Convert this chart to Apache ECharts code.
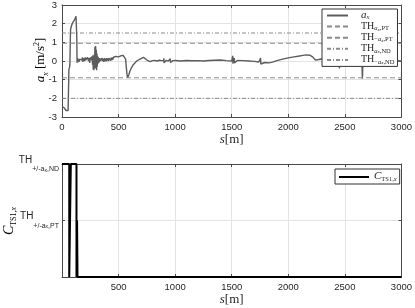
<!DOCTYPE html>
<html><head><meta charset="utf-8">
<script src="https://cdn.jsdelivr.net/npm/echarts@6/dist/echarts.min.js"></script>
<style>html,body{margin:0;padding:0;background:#fff}#c{width:415px;height:308px}</style>
</head><body><div id="c"></div>
<script>
// ---- data ----
const sAx = [0,6,12,18,24,30,36,42,48,54,58,60,61,64,68,70,72,74,76,78,82,86,90,95,100,105,110,115,118,121,124,127,129,131,133,136,140,145,150,155,160,165,170,175,180,185,190,195,200,205,210,215,220,225,230,235,240,245,250,255,260,265,270,273,276,279,282,285,288,291,294,297,300,303,306,309,312,315,318,321,324,327,330,335,340,345,350,355,360,365,370,375,380,385,390,395,400,405,410,415,420,425,430,435,440,445,450,455,460,465,470,475,480,490,500,510,520,530,540,550,556,562,568,574,580,590,600,615,630,645,660,675,690,705,720,735,750,765,780,800,820,840,860,880,898,900,902,920,940,955,957,959,980,1000,1050,1100,1150,1200,1250,1300,1350,1400,1450,1500,1509,1511,1513,1523,1525,1550,1600,1650,1700,1740,1755,1757,1760,1790,1830,1860,1900,1950,2000,2050,2100,2130,2160,2190,2215,2240,2255,2270,2300,2350,2400,2450,2452,2455,2500,2550,2600,2650,2655,2660,2700,2800,2900,2950,3000];
const ax = [-2.45,-2.5,-2.55,-2.5,-2.6,-2.55,-2.65,-2.6,-2.7,-2.65,-2.7,-2.6,-0.45,-0.35,-0.3,-0.15,0.6,1.3,1.7,1.8,1.85,1.95,2.0,2.05,2.1,2.0,2.2,2.15,2.3,2.25,2.4,2.45,2.3,1.2,-0.1,0.15,0.05,0.15,-0.05,0.1,0.2,0.0,0.15,0.05,0.2,-0.05,0.15,0.1,0.0,0.2,0.05,0.15,-0.05,0.2,0.1,0.0,0.15,-0.1,0.2,0.05,-0.05,0.25,-0.2,0.3,-0.45,0.2,-0.5,0.35,-0.3,0.75,-0.4,0.8,-0.2,0.6,-0.5,0.4,-0.3,0.25,-0.15,0.2,-0.1,0.15,-0.05,0.15,0.0,0.1,-0.05,0.15,0.0,0.12,-0.05,0.15,0.0,0.12,-0.02,0.15,0.02,0.14,0.0,0.15,0.05,0.16,0.02,0.18,0.05,0.2,0.08,0.2,0.1,0.22,0.12,0.25,0.15,0.25,0.22,0.3,0.28,0.33,0.3,0.38,0.32,0.1,-0.3,-0.7,-0.9,-0.75,-0.55,-0.35,-0.2,-0.1,0.0,0.05,0.1,0.15,0.2,0.15,0.05,0.0,-0.03,0.02,0.03,0.0,0.04,0.02,0.03,0.14,-0.1,0.03,0.0,0.02,0.12,-0.08,0.02,0.03,0.0,0.03,0.01,0.02,0.0,0.03,0.04,0.05,0.02,0.0,0.28,-0.15,0.03,0.16,-0.1,0.03,0.02,0.0,-0.02,-0.05,0.16,-0.16,-0.06,-0.08,-0.1,-0.06,0.02,0.1,0.17,0.22,0.27,0.3,0.33,0.31,0.22,0.05,0.0,0.08,0.12,0.1,0.08,0.05,-0.4,0.05,0.06,0.04,0.03,0.02,-0.95,0.02,0.0,0.02,0.0,0.02,0.0];
const thPosPT = 0.95, thNegPT = -0.9, thPosND = 1.5, thNegND = -2.0;
const sRange = [0, 3000];
const sC = [0,64,64,78,78,128,128,133,133,137,137,3000];
const cVal = [2,2,0,0,2,2,0,0,1,1,0,0];
const cTickLabels = {1: 'PT', 2: 'ND'};

const zip = (a, b) => a.map((v, i) => [v, b[i]]);
const thLine = v => sRange.map(s => [s, v]);

const frame = '#4a4a4a', grid = '#e3e3e3', txt = '#262626';
const tickFont = {fontSize: 9.5, color: txt, fontFamily: 'Liberation Sans'};
const serif = 'Liberation Serif';

function xMain(gi, hideZero) {
  return {gridIndex: gi, type: 'value', min: 0, max: 3000, interval: 500, position: 'bottom',
    axisLine: {show: true, onZero: false, lineStyle: {color: frame, width: 1}},
    axisTick: {show: true, inside: true, length: 3, lineStyle: {color: frame}},
    axisLabel: Object.assign({margin: 5, formatter: v => (hideZero && v === 0) ? '' : String(v)}, tickFont),
    splitLine: {show: true, lineStyle: {color: grid, width: 1}},
    name: '{i|s}{n|[m]}', nameLocation: 'middle', nameGap: 16,
    nameTextStyle: {rich: {i: {fontFamily: serif, fontStyle: 'italic', fontSize: 13, color: txt},
                           n: {fontFamily: serif, fontSize: 13, color: txt}}}};
}
function xTop(gi) {
  return {gridIndex: gi, type: 'value', min: 0, max: 3000, interval: 500, position: 'top',
    axisLine: {show: true, onZero: false, lineStyle: {color: frame, width: 1}},
    axisTick: {show: true, inside: true, length: 3, lineStyle: {color: frame}},
    axisLabel: {show: false}, splitLine: {show: false}};
}
function yRight(gi, min, max) {
  return {gridIndex: gi, type: 'value', min: min, max: max, interval: 1, position: 'right',
    axisLine: {show: true, onZero: false, lineStyle: {color: frame, width: 1}},
    axisTick: {show: true, inside: true, length: 3, lineStyle: {color: frame}},
    axisLabel: {show: false}, splitLine: {show: false}};
}

const legRich = {
  f: {fontFamily: serif, fontSize: 10, lineHeight: 11, color: txt, padding: [0,0,0,8], verticalAlign: 'top'},
  af: {fontFamily: serif, fontSize: 11, fontStyle: 'italic', lineHeight: 11, color: txt, padding: [0,0,0,8], verticalAlign: 'top'},
  s: {fontFamily: serif, fontSize: 6.5, color: txt, verticalAlign: 'bottom'},
  si: {fontFamily: serif, fontSize: 6.5, fontStyle: 'italic', color: txt, verticalAlign: 'bottom'},
  ss: {fontFamily: serif, fontSize: 5, fontStyle: 'italic', color: txt, verticalAlign: 'bottom'}
};
const legText = {
  ax: '{af|a}{si|x}',
  THpPT: '{f|TH}{si|a}{ss|x}{s|,PT}',
  THmPT: '{f|TH}{s|−}{si|a}{ss|x}{s|,PT}',
  THpND: '{f|TH}{si|a}{ss|x}{s|,ND}',
  THmND: '{f|TH}{s|−}{si|a}{ss|x}{s|,ND}',
  C: '{ci|C}{s|TS1,}{si|x}'
};

const dashed = [5, 3], dashDot = [4, 2, 1, 2];
const thColor = '#8a8a8a';
const noSym = {color: 'rgba(0,0,0,0)', borderWidth: 0, opacity: 0};

const option = {
  animation: false,
  backgroundColor: '#fff',
  grid: [
    {left: 62, top: 4, width: 344, height: 113},
    {left: 62, top: 164, width: 344, height: 113}
  ],
  xAxis: [xMain(0, false), xTop(0), xMain(1, true), xTop(1)],
  yAxis: [
    {gridIndex: 0, type: 'value', min: -3, max: 3, interval: 1, position: 'left',
      axisLine: {show: true, onZero: false, lineStyle: {color: frame, width: 1}},
      axisTick: {show: true, inside: true, length: 3, lineStyle: {color: frame}},
      axisLabel: Object.assign({margin: 5}, tickFont),
      splitLine: {show: true, lineStyle: {color: grid, width: 1}}},
    yRight(0, -3, 3),
    {gridIndex: 1, type: 'value', min: 0, max: 2, interval: 1, position: 'left',
      axisLine: {show: true, onZero: false, lineStyle: {color: frame, width: 1}},
      axisTick: {show: true, inside: true, length: 3, lineStyle: {color: frame}},
      axisLabel: {margin: 3, formatter: v => cTickLabels[v] ? '{t|TH}{s|+/-a}{ss|x}{s|,' + cTickLabels[v] + '}' : '',
        rich: {t: {fontFamily: 'Liberation Sans', fontSize: 10, color: txt, lineHeight: 18, verticalAlign: 'top'},
               s: {fontFamily: 'Liberation Sans', fontSize: 7, color: txt, verticalAlign: 'bottom'},
               ss: {fontFamily: 'Liberation Sans', fontSize: 5, color: txt, verticalAlign: 'bottom'}}},
      splitLine: {show: true, lineStyle: {color: grid, width: 1}}},
    yRight(1, 0, 2)
  ],
  legend: [
    {data: ['ax', 'THpPT', 'THmPT', 'THpND', 'THmND'], orient: 'vertical', left: 322, top: 9,
      padding: [1, 3, 1, 4], itemGap: 0.1, itemWidth: 21, itemHeight: 11,
      itemStyle: noSym,
      backgroundColor: '#fff', borderColor: '#333', borderWidth: 1, borderRadius: 0,
      formatter: n => legText[n], textStyle: {rich: legRich}, selectedMode: false},
    {data: ['C'], orient: 'vertical', left: 335, top: 169,
      padding: [2, 3, 1, 3], itemGap: 0, itemWidth: 30, itemHeight: 12,
      itemStyle: noSym,
      backgroundColor: '#fff', borderColor: '#333', borderWidth: 1, borderRadius: 0,
      formatter: n => legText[n],
      textStyle: {rich: Object.assign({ci: {fontFamily: serif, fontSize: 11, fontStyle: 'italic', color: txt, lineHeight: 12, verticalAlign: 'top'}}, legRich)},
      selectedMode: false}
  ],
  series: [
    {name: 'ax', type: 'line', xAxisIndex: 0, yAxisIndex: 0, data: zip(sAx, ax), symbol: 'none',
      lineStyle: {color: '#5c5c5c', width: 1.4}, itemStyle: {color: '#5c5c5c'}, z: 3},
    {name: 'THpPT', type: 'line', xAxisIndex: 0, yAxisIndex: 0, data: thLine(thPosPT), symbol: 'none',
      lineStyle: {color: thColor, width: 1, type: dashed}, itemStyle: {color: thColor}},
    {name: 'THmPT', type: 'line', xAxisIndex: 0, yAxisIndex: 0, data: thLine(thNegPT), symbol: 'none',
      lineStyle: {color: thColor, width: 1, type: dashed}, itemStyle: {color: thColor}},
    {name: 'THpND', type: 'line', xAxisIndex: 0, yAxisIndex: 0, data: thLine(thPosND), symbol: 'none',
      lineStyle: {color: thColor, width: 1, type: dashDot}, itemStyle: {color: thColor}},
    {name: 'THmND', type: 'line', xAxisIndex: 0, yAxisIndex: 0, data: thLine(thNegND), symbol: 'none',
      lineStyle: {color: thColor, width: 1, type: dashDot}, itemStyle: {color: thColor}},
    {name: 'C', type: 'line', xAxisIndex: 2, yAxisIndex: 2, data: zip(sC, cVal), symbol: 'none',
      lineStyle: {color: '#000', width: 2}, itemStyle: {color: '#000'}, z: 3}
  ],
  graphic: [
    {type: 'text', x: 41, y: 60, rotation: Math.PI / 2,
      style: {text: '{ai|a}{s|x}{n| [m/s}{sup|2}{n|]}', align: 'center', verticalAlign: 'middle',
        rich: {ai: {fontFamily: serif, fontStyle: 'italic', fontSize: 13, lineHeight: 17, color: txt, verticalAlign: 'middle'},
               n: {fontFamily: serif, fontSize: 13, lineHeight: 17, color: txt},
               s: {fontFamily: serif, fontStyle: 'italic', fontSize: 8, color: txt, verticalAlign: 'bottom'},
               sup: {fontFamily: serif, fontSize: 8, color: txt, verticalAlign: 'top'}}}},
    {type: 'text', x: 10, y: 221, rotation: Math.PI / 2,
      style: {text: '{ci|C}{s|TS1,}{si|x}', align: 'center', verticalAlign: 'middle',
        rich: {ci: {fontFamily: serif, fontStyle: 'italic', fontSize: 14, lineHeight: 16, color: txt, verticalAlign: 'top'},
               s: {fontFamily: serif, fontSize: 8, color: txt, verticalAlign: 'bottom'},
               si: {fontFamily: serif, fontStyle: 'italic', fontSize: 8, color: txt, verticalAlign: 'bottom'}}}}
  ]
};
echarts.init(document.getElementById('c'), null, {renderer: 'canvas'}).setOption(option);
</script></body></html>
